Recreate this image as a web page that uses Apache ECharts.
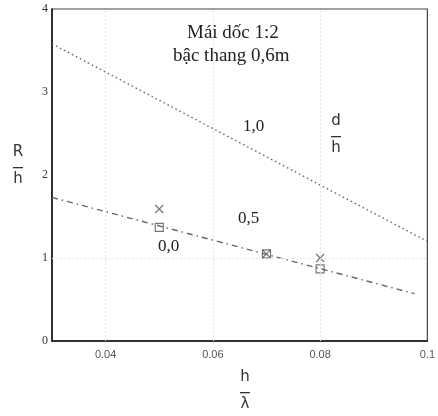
<html><head><meta charset='utf-8'>
<script src='https://cdn.jsdelivr.net/npm/echarts@6/dist/echarts.min.js'></script>
<style>body{margin:0;background:#fff}#c{width:438px;height:416px}</style>
</head><body><div id='c'></div><script>
// du lieu doc tu hinh
var xTicks = [0.04, 0.06, 0.08, 0.1];
var line10 = [[0.03, 3.58], [0.1, 1.2]];        // d/h = 1,0
var line05 = [[0.03, 1.73], [0.0976, 0.57]];    // d/h = 0,5 / 0,0
var crossPts = [[0.05, 1.59], [0.07, 1.05], [0.08, 1.0]];
var squarePts = [[0.05, 1.37], [0.07, 1.05], [0.08, 0.87]];

var chart = echarts.init(document.getElementById('c'));
var serif = 'Liberation Serif';
var sans = 'DejaVu Sans';
var grid = {left: 52, right: 10, top: 9, bottom: 75};

// phan so: tu so, gach ngang, mau so
function frac(x, y, a, b) {
  return [
    {type: 'text', x: x, y: y, style: {text: a, font: '15px ' + sans, fill: '#333', align: 'center', verticalAlign: 'top'}},
    {type: 'rect', x: x - 5, y: y + 22, shape: {width: 10, height: 1.3}, style: {fill: '#333'}},
    {type: 'text', x: x, y: y + 27, style: {text: b, font: '15px ' + sans, fill: '#333', align: 'center', verticalAlign: 'top'}}
  ];
}

var gfx = [
  {type: 'text', left: 187, top: 24, style: {text: 'Mái dốc 1:2', font: '19px ' + serif, fill: '#222'}},
  {type: 'text', left: 173, top: 47, style: {text: 'bậc thang 0,6m', font: '19px ' + serif, fill: '#222'}},
  {type: 'text', left: 243, top: 118, style: {text: '1,0', font: '17px ' + serif, fill: '#222'}},
  {type: 'text', left: 238, top: 210, style: {text: '0,5', font: '17px ' + serif, fill: '#222'}},
  {type: 'text', left: 158, top: 238, style: {text: '0,0', font: '17px ' + serif, fill: '#222'}}
].concat(frac(336, 114, 'd', 'h'), frac(18, 145, 'R', 'h'), frac(245, 370, 'h', 'λ'));

chart.setOption({
  animation: false,
  grid: Object.assign({show: true, borderColor: '#444', borderWidth: 1.2}, grid),
  xAxis: {
    type: 'value', min: 0.03, max: 0.1, interval: 0.01,
    axisLine: {lineStyle: {color: '#111', width: 1.5}},
    axisTick: {show: false}, splitLine: {show: false},
    axisLabel: {
      color: '#555', fontSize: 11, fontFamily: 'Liberation Sans', margin: 8,
      formatter: function (v) {
        for (var i = 0; i < xTicks.length; i++) {
          if (Math.abs(v - xTicks[i]) < 1e-6) return i === xTicks.length - 1 ? '0.1' : xTicks[i].toFixed(2);
        }
        return '';
      }
    }
  },
  yAxis: {
    type: 'value', min: 0, max: 4, interval: 1,
    axisLine: {show: true, lineStyle: {color: '#111', width: 1.5}},
    axisTick: {show: false}, splitLine: {show: false},
    axisLabel: {color: '#333', fontSize: 12, fontFamily: serif, margin: 4}
  },
  graphic: gfx,
  series: [
    {
      type: 'line', data: line10, symbol: 'none', silent: true,
      lineStyle: {color: '#666', width: 1.4, type: [1.5, 3]},
      markLine: {
        silent: true, symbol: 'none', label: {show: false},
        lineStyle: {color: '#e4e4e4', width: 1, type: [2, 2]},
        data: [{xAxis: 0.04}, {xAxis: 0.06}, {xAxis: 0.08}, {yAxis: 1}]
      }
    },
    {
      type: 'line', data: line05, symbol: 'none', silent: true,
      lineStyle: {color: '#666', width: 1.4, type: [6, 4, 1.5, 4]}
    },
    {
      type: 'scatter', data: squarePts, symbol: 'rect', symbolSize: 8,
      itemStyle: {color: '#fff', borderColor: '#555', borderWidth: 1.2}
    },
    {
      type: 'scatter', data: crossPts, symbol: 'path://M0,0L10,10M10,0L0,10', symbolSize: 8,
      itemStyle: {color: 'none', borderColor: '#555', borderWidth: 1.2}
    }
  ]
});
</script></body></html>
